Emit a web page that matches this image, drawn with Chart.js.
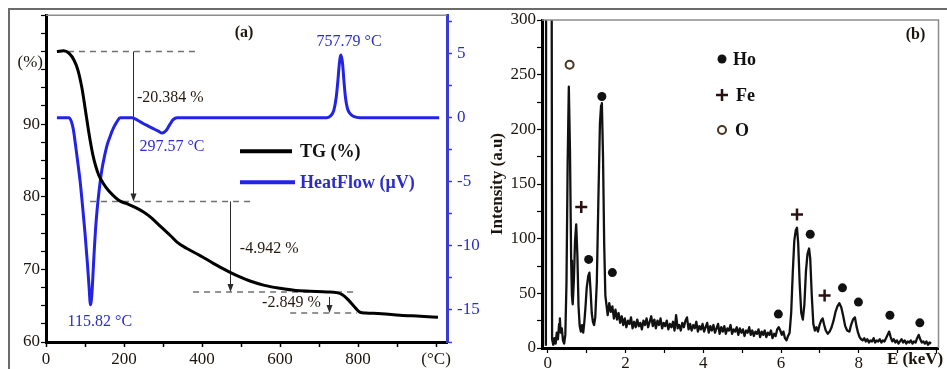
<!DOCTYPE html>
<html>
<head>
<meta charset="utf-8">
<script src="https://cdn.jsdelivr.net/npm/chart.js@4.4.1/dist/chart.umd.min.js"></script>
<style>
  html, body { margin: 0; padding: 0; background: #fff; }
  body { width: 947px; height: 369px; position: relative; overflow: hidden; }
  .frame { position: absolute; left: 8px; top: 8px; width: 960px; height: 400px; border: 2px solid #6b6b6b; }
  #tgChart { position: absolute; left: 0; top: 0; }
  #edsChart { position: absolute; left: 470px; top: 0; }
</style>
</head>
<body>
<div class="frame"></div>
<canvas id="tgChart" width="484" height="369"></canvas>
<canvas id="edsChart" width="477" height="369"></canvas>
<script>
const serif = "'Liberation Serif', 'Times New Roman', serif";

// (a) TG curve
const tgTemp = [28, 45, 60, 72, 82, 92, 100, 107, 113, 120, 127, 135, 145, 158, 172, 190, 210, 230, 250, 268,
  284, 300, 318, 335, 360, 395, 430, 472, 500, 523, 560, 600, 640, 677, 720, 745, 760, 775, 790, 805,
  820, 860, 908, 960, 1005];
const tgMass = [100, 100.1, 99.7, 98.8, 97.4, 95.0, 92.3, 89.8, 87.8, 85.8, 84.3, 83.0, 82.0, 81.0, 80.2, 79.4, 79.0, 78.5, 77.9, 77.2,
  76.4, 75.6, 74.7, 73.8, 72.9, 71.9, 70.8, 69.6, 68.9, 68.4, 67.8, 67.4, 67.1, 67.0, 66.9, 66.8, 66.5, 65.8, 64.9, 64.1,
  64.0, 63.9, 63.7, 63.55, 63.4];

// (a) heat flow curve
const hfTemp = [28, 59, 65, 70, 76, 82, 88, 94, 100, 106, 110, 114, 118, 121, 124, 127, 131, 135, 143, 150,
  157, 165, 173, 182, 190, 220, 235, 249, 262, 275, 288, 298, 308, 318, 326, 336, 720, 730, 738, 744,
  748, 752, 756, 760, 764, 768, 773, 780, 790, 805, 1008];
const hfSignal = [0, 0, -0.3, -0.9, -2.2, -3.6, -5.1, -7.0, -9.0, -11.3, -13.0, -14.6, -13.6, -11.9, -10.2, -8.7, -7.2, -6.0, -4.1, -3.0,
  -2.1, -1.4, -0.8, -0.3, 0, 0, -0.2, -0.45, -0.65, -0.85, -1.05, -1.2, -1.0, -0.5, -0.15, 0, 0, 0.15, 0.6, 1.6,
  2.8, 4.2, 4.9, 4.3, 2.8, 1.5, 0.7, 0.3, 0.08, 0, 0];

const tempTicks = [0, 100, 200, 300, 400, 500, 600, 700, 800, 900, 1000];
const tempTickLabels = ['0', '', '200', '', '400', '', '600', '', '800', '', '(°C)'];
const massTicks = [60, 62.5, 65, 67.5, 70, 72.5, 75, 77.5, 80, 82.5, 85, 87.5, 90, 92.5, 95, 97.5, 100, 102.5, 105];
const massLabelled = [60, 70, 80, 90];
const hfTicks = [-17.5, -15, -12.5, -10, -7.5, -5, -2.5, 0, 2.5, 5, 7.5];
const hfLabelled = [-15, -10, -5, 0, 5];

// annotations of (a), in data units
const stepLines = [
  { mass: 100, from: 28, to: 382 },
  { mass: 79.35, from: 113, to: 536 },
  { mass: 66.9, from: 377, to: 797 },
  { mass: 64.0, from: 626, to: 797 }
];
const lossArrows = [
  { t: 223, from: 100, to: 79.35 },
  { t: 472, from: 79.35, to: 66.9 },
  { t: 726, from: 66.2, to: 64.0 }
];
const lossLabels = [
  { text: '-20.384 %', t: 233, mass: 93.6 },
  { text: '-4.942 %', t: 497, mass: 72.9 },
  { text: '-2.849 %', t: 554, mass: 65.4 }
];
const peakLabels = [
  { text: '757.79 °C', t: 777, hf: 5.9 },
  { text: '297.57 °C', t: 323, hf: -2.3 },
  { text: '115.82 °C', t: 138, hf: -15.9 }
];

// (b) EDS spectrum
const edsKeV = [-0.05, -0.04, 0.09, 0.11, 0.14, 0.17, 0.20, 0.23, 0.26, 0.29, 0.31, 0.33, 0.36, 0.39, 0.42, 0.45, 0.48, 0.51, 0.54, 0.57,
  0.60, 0.62, 0.64, 0.67, 0.70, 0.73, 0.76, 0.79, 0.82, 0.85, 0.88, 0.91, 0.94, 0.97, 1.00, 1.04, 1.07, 1.10, 1.13, 1.16,
  1.19, 1.22, 1.26, 1.30, 1.34, 1.37, 1.39, 1.42, 1.45, 1.48, 1.51,
  1.54, 1.58, 1.62, 1.66, 1.70, 1.74, 1.78, 1.82, 1.86, 1.90, 1.94, 1.98, 2.02, 2.06, 2.10, 2.14, 2.18, 2.22, 2.26, 2.30,
  2.34, 2.38, 2.42, 2.46, 2.50, 2.54, 2.58, 2.62, 2.66, 2.70, 2.74, 2.78, 2.82, 2.86, 2.90, 2.94, 2.98, 3.02, 3.06, 3.10,
  3.14, 3.18, 3.22, 3.26, 3.30, 3.34, 3.38, 3.42, 3.46, 3.50, 3.54, 3.58, 3.62, 3.66, 3.70, 3.74, 3.78, 3.82, 3.86, 3.90,
  3.94, 3.98, 4.02, 4.06, 4.10, 4.14, 4.18, 4.22, 4.26, 4.30, 4.34, 4.38, 4.42, 4.46, 4.50, 4.54, 4.58, 4.62, 4.66, 4.70,
  4.74, 4.78, 4.82, 4.86, 4.90, 4.94, 4.98, 5.02, 5.06, 5.10, 5.14, 5.18, 5.22, 5.26, 5.30, 5.34, 5.38, 5.42, 5.46, 5.50,
  5.54, 5.58, 5.62, 5.66, 5.70, 5.74, 5.78, 5.82, 5.86, 5.90, 5.94,
  5.98, 6.02, 6.06, 6.10, 6.14, 6.18, 6.22, 6.26, 6.30, 6.34, 6.38, 6.41, 6.44, 6.48, 6.52, 6.56, 6.60, 6.64, 6.68, 6.72,
  6.75, 6.79, 6.83, 6.87, 6.91, 6.95, 6.99, 7.03, 7.07, 7.11, 7.15, 7.20, 7.25, 7.30, 7.35, 7.40, 7.45, 7.50, 7.55, 7.60,
  7.65, 7.70, 7.76, 7.80, 7.85, 7.90, 7.94, 7.98, 8.02, 8.06,
  8.10, 8.14, 8.18, 8.22, 8.26, 8.30, 8.34, 8.38, 8.42, 8.46, 8.50, 8.54, 8.58, 8.62, 8.66, 8.70, 8.74, 8.78, 8.82, 8.86,
  8.90, 8.94, 8.98, 9.02, 9.06, 9.10, 9.14, 9.18, 9.22, 9.26, 9.30, 9.34, 9.38, 9.42, 9.46, 9.50, 9.54, 9.58, 9.62, 9.66,
  9.70, 9.74, 9.78, 9.82, 9.86];
const edsCounts = [2, 600, 600, 8, 3, 9, 4, 14, 8, 22, 27, 14, 18, 7, 4, 12, 60, 170, 239, 180,
  80, 48, 40, 62, 98, 113, 85, 38, 20, 15, 21, 14, 24, 38, 55, 66, 69, 52, 32, 24,
  21, 28, 60, 135, 205, 222, 224, 175, 95, 48, 39,
  30, 41, 33, 38, 27, 35, 26, 32, 23, 29, 21, 27, 19, 25, 22, 28, 18, 24, 19, 26,
  20, 23, 17, 25, 21, 27, 19, 24, 29, 20, 26, 18, 25, 21, 27, 18, 23, 20, 25, 17,
  22, 19, 24, 16, 30, 18, 21, 16, 23, 19, 25, 28, 17, 22, 16, 21, 18, 24, 15, 20,
  17, 22, 15, 19, 23, 14, 20, 16, 21, 14, 18, 22, 13, 19, 15, 20, 13, 18, 16, 21,
  13, 17, 15, 19, 12, 18, 14, 17, 11, 16, 14, 19, 12, 16, 11, 15, 13, 17, 10, 15,
  12, 16, 10, 14, 12, 16, 9, 13, 11, 17, 19,
  16, 12, 15, 9, 7, 11, 14, 32, 68, 98, 108, 110, 96, 58, 32, 26, 40, 70, 86, 91,
  82, 48, 22, 16, 19, 15, 21, 25, 27, 21, 16, 13, 15, 19, 25, 33, 38, 41, 37, 29,
  20, 16, 15, 21, 26, 28, 20, 14, 10, 8,
  7, 9, 6, 8, 5, 7, 6, 9, 5, 7, 6, 8, 5, 7, 6, 9, 12, 15, 10, 6,
  8, 5, 7, 4, 6, 8, 5, 7, 4, 6, 5, 7, 4, 6, 5, 9, 12, 8, 5, 6,
  4, 6, 3, 5, 4];

// (b) element markers
const hoKeV = [1.05, 1.39, 1.66, 5.93, 6.75, 7.58, 7.99, 8.80, 9.57];
const hoMark = [81, 230, 69, 31, 104, 55, 42, 30, 23];
const feKeV = [0.86, 6.41, 7.12];
const feMark = [129, 122, 48];
const oKeV = [0.56];
const oMark = [259];

const keVTicks = [0, 1, 2, 3, 4, 5, 6, 7, 8, 9, 10];
const keVTickLabels = ['0', '', '2', '', '4', '', '6', '', '8', '', ''];
const countTicks = [0, 25, 50, 75, 100, 125, 150, 175, 200, 225, 250, 275, 300];

function pairs(xs, ys) {
  return xs.map((x, i) => ({ x: x, y: ys[i] }));
}

function setTicks(list) {
  return scale => { scale.ticks = list.map(v => ({ value: v })); };
}

// ---------- (a) decorations ----------
const tgDecor = {
  id: 'tgDecor',
  beforeDatasetsDraw(chart) {
    const { ctx, chartArea: a, scales: { x, y } } = chart;
    ctx.save();
    ctx.strokeStyle = '#8c8c8c';
    ctx.lineWidth = 1.5;
    ctx.beginPath();
    ctx.moveTo(a.left, a.top);
    ctx.lineTo(a.right, a.top);
    ctx.stroke();

    ctx.setLineDash([6, 5]);
    ctx.strokeStyle = '#707070';
    ctx.lineWidth = 1.5;
    stepLines.forEach(l => {
      const py = y.getPixelForValue(l.mass);
      ctx.beginPath();
      ctx.moveTo(x.getPixelForValue(l.from), py);
      ctx.lineTo(x.getPixelForValue(l.to), py);
      ctx.stroke();
    });
    ctx.setLineDash([]);

    ctx.strokeStyle = '#2a2a2a';
    ctx.fillStyle = '#2a2a2a';
    ctx.lineWidth = 1;
    lossArrows.forEach(ar => {
      const px = Math.round(x.getPixelForValue(ar.t)) + 0.5;
      const y1 = y.getPixelForValue(ar.from);
      const y2 = y.getPixelForValue(ar.to);
      ctx.beginPath();
      ctx.moveTo(px, y1);
      ctx.lineTo(px, y2 - 4);
      ctx.stroke();
      ctx.beginPath();
      ctx.moveTo(px - 3, y2 - 8);
      ctx.lineTo(px + 3, y2 - 8);
      ctx.lineTo(px, y2);
      ctx.closePath();
      ctx.fill();
    });
    ctx.restore();
  },
  afterDatasetsDraw(chart) {
    const { ctx, chartArea: a, scales: { x, y, y1 } } = chart;
    ctx.save();
    ctx.textBaseline = 'middle';

    ctx.font = '16px ' + serif;
    ctx.fillStyle = '#241a10';
    ctx.textAlign = 'left';
    lossLabels.forEach(l => ctx.fillText(l.text, x.getPixelForValue(l.t), y.getPixelForValue(l.mass)));

    ctx.fillStyle = '#2b2bd0';
    ctx.textAlign = 'center';
    peakLabels.forEach(l => ctx.fillText(l.text, x.getPixelForValue(l.t), y1.getPixelForValue(l.hf)));

    // panel tag and unit
    ctx.fillStyle = '#1c150e';
    ctx.font = 'bold 16px ' + serif;
    ctx.fillText('(a)', a.left + 198, a.top + 18);
    ctx.font = '17px ' + serif;
    ctx.textAlign = 'right';
    ctx.fillText('(%)', a.left - 3, y.getPixelForValue(98.5));

    // legend
    const lx = a.left + 194;
    ctx.lineWidth = 4;
    ctx.strokeStyle = '#000';
    ctx.beginPath();
    ctx.moveTo(lx, a.top + 136);
    ctx.lineTo(lx + 52, a.top + 136);
    ctx.stroke();
    ctx.strokeStyle = '#2323e6';
    ctx.beginPath();
    ctx.moveTo(lx, a.top + 167);
    ctx.lineTo(lx + 55, a.top + 167);
    ctx.stroke();
    ctx.textAlign = 'left';
    ctx.font = 'bold 18px ' + serif;
    ctx.fillStyle = '#111';
    ctx.fillText('TG (%)', lx + 60, a.top + 137);
    ctx.fillStyle = '#2b2bd0';
    ctx.fillText('HeatFlow (\u03BCV)', lx + 60, a.top + 168);
    ctx.restore();
  }
};

new Chart(document.getElementById('tgChart'), {
  type: 'line',
  data: {
    datasets: [
      {
        label: 'TG (%)',
        data: pairs(tgTemp, tgMass),
        yAxisID: 'y',
        borderColor: '#000',
        borderWidth: 3,
        pointRadius: 0,
        cubicInterpolationMode: 'monotone'
      },
      {
        label: 'HeatFlow (\u03BCV)',
        data: pairs(hfTemp, hfSignal),
        yAxisID: 'y1',
        borderColor: '#2323e6',
        borderWidth: 3,
        pointRadius: 0,
        cubicInterpolationMode: 'monotone'
      }
    ]
  },
  options: {
    responsive: false,
    devicePixelRatio: 1,
    animation: false,
    events: [],
    layout: { padding: { top: 15, left: 0, right: 0, bottom: 0 } },
    plugins: { legend: { display: false }, tooltip: { enabled: false } },
    scales: {
      x: {
        type: 'linear',
        min: 0,
        max: 1028,
        afterBuildTicks: setTicks(tempTicks),
        afterFit: s => { s.height = 27; },
        grid: { drawOnChartArea: false, tickLength: 5, tickColor: '#000', tickWidth: 1.5 },
        border: { color: '#000', width: 3 },
        ticks: {
          autoSkip: false, maxRotation: 0, padding: 2, color: '#1c150e',
          font: { family: serif, size: 17 },
          callback: (v, i) => tempTickLabels[i]
        }
      },
      y: {
        position: 'left',
        min: 60,
        max: 105,
        afterBuildTicks: setTicks(massTicks),
        afterFit: s => { s.width = 46; },
        grid: { drawOnChartArea: false, tickLength: 5, tickColor: '#000', tickWidth: 1.2 },
        border: { color: '#000', width: 3 },
        ticks: {
          autoSkip: false, padding: 1, color: '#1c150e',
          font: { family: serif, size: 17 },
          callback: v => massLabelled.includes(v) ? String(v) : ''
        }
      },
      y1: {
        position: 'right',
        min: -17.5,
        max: 8,
        afterBuildTicks: setTicks(hfTicks),
        afterFit: s => { s.width = 37; },
        grid: { drawOnChartArea: false, tickLength: 5, tickColor: '#3a3ad4', tickWidth: 1.5 },
        border: { color: '#3a3ad4', width: 3 },
        ticks: {
          autoSkip: false, padding: 5, color: '#2b2bd0',
          font: { family: serif, size: 17 },
          callback: v => hfLabelled.includes(v) ? String(v) : ''
        }
      }
    }
  },
  plugins: [tgDecor]
});

// ---------- (b) decorations ----------
const edsDecor = {
  id: 'edsDecor',
  afterDatasetsDraw(chart) {
    const { ctx, chartArea: a } = chart;
    ctx.save();
    ctx.strokeStyle = '#8c8c8c';
    ctx.lineWidth = 1.5;
    ctx.beginPath();
    ctx.moveTo(a.left, a.top);
    ctx.lineTo(a.right, a.top);
    ctx.lineTo(a.right, a.bottom);
    ctx.stroke();

    ctx.textBaseline = 'middle';
    ctx.fillStyle = '#1c150e';
    ctx.font = 'bold 16px ' + serif;
    ctx.textAlign = 'center';
    ctx.fillText('(b)', a.right - 23, a.top + 15);

    ctx.textAlign = 'left';
    ctx.font = 'bold 17px ' + serif;
    ctx.fillText('E (keV)', a.left + 345, a.bottom + 12);

    // legend
    const lx = a.left + 180;
    ctx.font = 'bold 18px ' + serif;
    ctx.fillStyle = '#111';
    ctx.beginPath();
    ctx.arc(lx, a.top + 39, 4.5, 0, Math.PI * 2);
    ctx.fill();
    ctx.fillText('Ho', lx + 11, a.top + 40);

    ctx.strokeStyle = '#2a1010';
    ctx.lineWidth = 2.5;
    ctx.beginPath();
    ctx.moveTo(lx - 6, a.top + 75);
    ctx.lineTo(lx + 6, a.top + 75);
    ctx.moveTo(lx, a.top + 69);
    ctx.lineTo(lx, a.top + 81);
    ctx.stroke();
    ctx.fillText('Fe', lx + 14, a.top + 76);

    ctx.strokeStyle = '#4a3422';
    ctx.lineWidth = 2;
    ctx.beginPath();
    ctx.arc(lx, a.top + 110, 4, 0, Math.PI * 2);
    ctx.stroke();
    ctx.fillText('O', lx + 13, a.top + 111);
    ctx.restore();
  }
};

new Chart(document.getElementById('edsChart'), {
  type: 'line',
  data: {
    datasets: [
      {
        label: 'Spectrum',
        data: pairs(edsKeV, edsCounts),
        borderColor: '#111',
        borderWidth: 2.3,
        borderJoinStyle: 'round',
        pointRadius: 0,
        tension: 0,
        clip: 0
      },
      {
        label: 'Ho',
        data: pairs(hoKeV, hoMark),
        showLine: false,
        pointStyle: 'circle',
        pointRadius: 4.5,
        pointBackgroundColor: '#111',
        pointBorderColor: '#111',
        pointBorderWidth: 0
      },
      {
        label: 'Fe',
        data: pairs(feKeV, feMark),
        showLine: false,
        pointStyle: 'cross',
        pointRadius: 6,
        pointBorderColor: '#2a1010',
        pointBorderWidth: 2.5
      },
      {
        label: 'O',
        data: pairs(oKeV, oMark),
        showLine: false,
        pointStyle: 'circle',
        pointRadius: 4,
        pointBackgroundColor: '#fff',
        pointBorderColor: '#4a3422',
        pointBorderWidth: 2
      }
    ]
  },
  options: {
    responsive: false,
    devicePixelRatio: 1,
    animation: false,
    events: [],
    layout: { padding: { top: 20, left: 0, right: 4, bottom: 0 } },
    plugins: { legend: { display: false }, tooltip: { enabled: false } },
    scales: {
      x: {
        type: 'linear',
        min: -0.15,
        max: 10.05,
        afterBuildTicks: setTicks(keVTicks),
        afterFit: s => { s.height = 21; },
        grid: { drawOnChartArea: false, tickLength: 5, tickColor: '#000', tickWidth: 1.2 },
        border: { color: '#000', width: 3 },
        ticks: {
          autoSkip: false, maxRotation: 0, padding: 0, color: '#1c150e',
          font: { family: serif, size: 17 },
          callback: (v, i) => keVTickLabels[i]
        }
      },
      y: {
        min: 0,
        max: 300,
        afterBuildTicks: setTicks(countTicks),
        afterFit: s => { s.width = 72; },
        grid: { drawOnChartArea: false, tickLength: 5, tickColor: '#000', tickWidth: 1.2 },
        border: { color: '#000', width: 3 },
        title: {
          display: true,
          text: 'Intensity (a.u)',
          color: '#1c150e',
          font: { family: serif, size: 17, weight: 'bold' },
          padding: { top: 17, bottom: 0 }
        },
        ticks: {
          autoSkip: false, padding: 1, color: '#1c150e',
          font: { family: serif, size: 17 },
          callback: v => v % 50 === 0 ? String(v) : ''
        }
      }
    }
  },
  plugins: [edsDecor]
});
</script>
</body>
</html>
